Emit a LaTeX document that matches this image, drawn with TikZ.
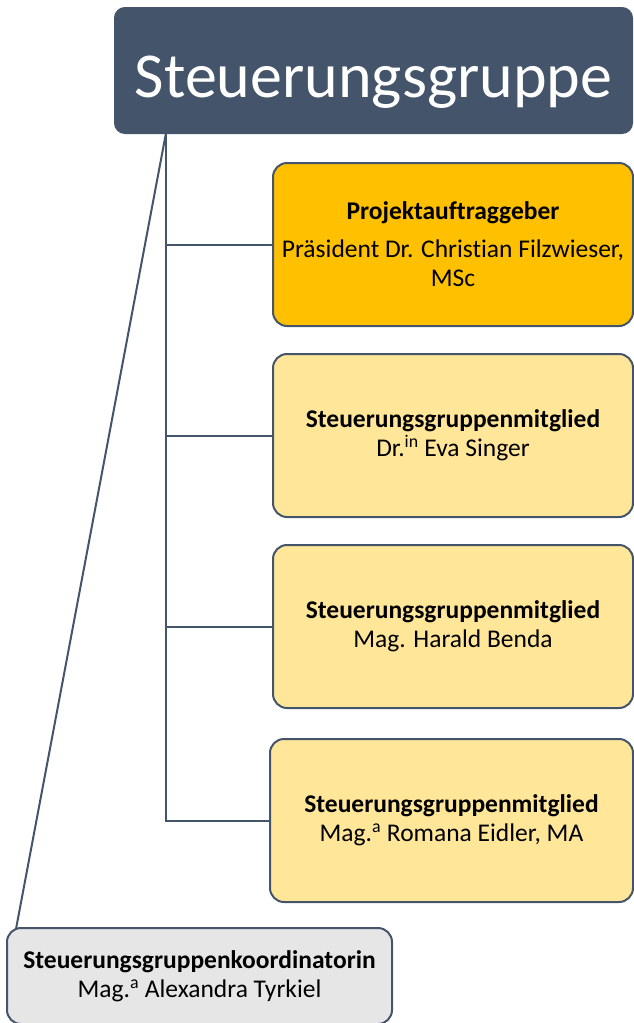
\documentclass[tikz,border=0pt]{standalone}
\usepackage{fontspec}
\setmainfont{Carlito}[Ligatures=NoCommon]
\definecolor{slate}{HTML}{44546A}
\definecolor{gold}{HTML}{FFC000}
\definecolor{pale}{HTML}{FFE699}
\definecolor{lgray}{HTML}{E7E6E6}
\begin{document}
\begin{tikzpicture}[x=1pt,y=-1pt,
  box/.style={draw=slate,line width=2pt,rounded corners=14pt,align=center,inner sep=0pt,font=\fontsize{25.5}{29}\selectfont},
  conn/.style={draw=slate,line width=2pt}]
\useasboundingbox (0,0) rectangle (634,1023);
\node[box,fill=slate,text=white,minimum width=517pt,minimum height=125pt,rounded corners=10pt,text height=53pt,text depth=0pt,font=\fontsize{64}{70}\selectfont] (top) at (373.5,70.5) {Steuerungsgruppe};
\node[box,fill=gold,minimum width=360pt,minimum height=163pt] (b1) at (453,244.5) {\textbf{Projektauftraggeber}\\[9pt]Präsident Dr. Christian Filzwieser,\\MSc};
\node[box,fill=pale,minimum width=360pt,minimum height=163pt] (b2) at (453,435.5) {\textbf{Steuerungsgruppenmitglied}\\Dr.\textsuperscript{in} Eva Singer};
\node[box,fill=pale,minimum width=360pt,minimum height=163pt] (b3) at (453,626.5) {\textbf{Steuerungsgruppenmitglied}\\Mag. Harald Benda};
\node[box,fill=pale,minimum width=363pt,minimum height=163pt] (b4) at (451.5,820.5) {\textbf{Steuerungsgruppenmitglied}\\Mag.\textsuperscript{a} Romana Eidler, MA};
\node[box,fill=lgray,minimum width=385pt,minimum height=96pt] (k) at (199.5,976) {\textbf{Steuerungsgruppenkoordinatorin}\\Mag.\textsuperscript{a} Alexandra Tyrkiel};
\coordinate (t) at (166,133);
\coordinate (kc) at (16,929);
\draw[conn] (t) |- (b4.west);
\draw[conn] (t |- b1.west) -- (b1.west);
\draw[conn] (t |- b2.west) -- (b2.west);
\draw[conn] (t |- b3.west) -- (b3.west);
\draw[conn] (t) -- (kc);
\end{tikzpicture}
\end{document}
